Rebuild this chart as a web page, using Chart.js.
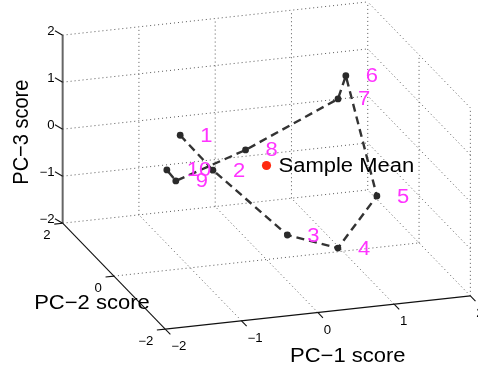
<!DOCTYPE html>
<html>
<head>
<meta charset="utf-8">
<script src="https://cdn.jsdelivr.net/npm/chart.js@4.4.1/dist/chart.umd.min.js"></script>
<style>
  html, body { margin: 0; padding: 0; background: #fff; }
  #wrap { position: relative; width: 478px; height: 368px; }
</style>
</head>
<body>
<div id="wrap"><canvas id="c"></canvas></div>
<script>
// PCA scores of the ten samples (PC-1, PC-2, PC-3)
const sampleIds = ['1', '2', '3', '4', '5', '6', '7', '8', '9', '10'];
const pc1 = [-0.93, -0.77, -0.13, 0.60, 1.38, 1.41, 1.24, -0.14, -1.29, -1.34];
const pc2 = [0.60, -0.20, -1.20, -1.00, -0.20, 1.10, 0.90, 0.40, -0.30, -0.10];
const pc3 = [0.47, 0.15, -0.78, -1.30, -0.78, 1.04, 0.69, 0.13, 0.07, 0.20];
const sampleMean = [0, 0, 0];
const meanLabel = 'Sample Mean';

// axis ticks and limits
const pc1Ticks = [-2, -1, 0, 1, 2];
const pc2Ticks = [-2, 0, 2];
const pc3Ticks = [-2, -1, 0, 1, 2];
const axisLimits = [-2, 2];
const axisTitles = ['PC\u22121 score', 'PC\u22122 score', 'PC\u22123 score'];

// orthographic camera (azimuth / elevation in degrees, screen units per data unit)
const VIEW = { az: -18, el: 19.6, unitX: 80.2, unitY: 83.0, unitZ: 49.9 };
const TEXT_STRETCH = 1.1;
const FONT = '"Liberation Sans", Arial, Helvetica, sans-serif';

function project(x, y, z) {
  const a = VIEW.az * Math.PI / 180, e = VIEW.el * Math.PI / 180;
  const X = x * VIEW.unitX, Y = y * VIEW.unitY, Z = z * VIEW.unitZ;
  return {
    x: X * Math.cos(a) + Y * Math.sin(a),
    y: -X * Math.sin(e) * Math.sin(a) + Y * Math.sin(e) * Math.cos(a) + Z * Math.cos(e)
  };
}

const fmt = v => (v < 0 ? '\u2212' + Math.abs(v) : String(v));
const [lo, hi] = axisLimits;

// box segments in data space
const gridSegs = [];
// back wall (PC-2 = hi)
pc3Ticks.forEach(z => gridSegs.push([[lo, hi, z], [hi, hi, z]]));
pc1Ticks.filter(x => x > lo).forEach(x => gridSegs.push([[x, hi, lo], [x, hi, hi]]));
// floor (PC-3 = lo)
pc1Ticks.filter(x => x > lo).forEach(x => gridSegs.push([[x, lo, lo], [x, hi, lo]]));
pc2Ticks.filter(y => y > lo && y < hi).forEach(y => gridSegs.push([[lo, y, lo], [hi, y, lo]]));
// side wall (PC-1 = hi)
pc3Ticks.filter(z => z > lo).forEach(z => gridSegs.push([[hi, lo, z], [hi, hi, z]]));
pc2Ticks.filter(y => y < hi).forEach(y => gridSegs.push([[hi, y, lo], [hi, y, hi]]));

const axisSegs = [
  [[lo, lo, lo], [hi, lo, lo]],   // PC-1
  [[lo, lo, lo], [lo, hi, lo]]    // PC-2
];
const zAxisSeg = [[lo, hi, lo], [lo, hi, hi]];

const tickSegs = [];
pc1Ticks.forEach(x => tickSegs.push([[x, lo, lo], [x, lo - 0.2, lo]]));
pc2Ticks.forEach(y => tickSegs.push([[lo, y, lo], [lo - 0.11, y, lo]]));
pc3Ticks.forEach(z => tickSegs.push([[lo, hi, z], [lo - 0.04, hi + 0.18, z]]));

const seg2d = s => s.map(p => project(p[0], p[1], p[2]));

const datasets = [];
gridSegs.forEach(s => datasets.push({
  data: seg2d(s), showLine: true, pointRadius: 0, borderWidth: 1,
  borderColor: 'rgba(70,70,70,0.9)', borderDash: [1, 3], order: 10
}));
axisSegs.concat(tickSegs).forEach(s => datasets.push({
  data: seg2d(s), showLine: true, pointRadius: 0, borderWidth: 1.1,
  borderColor: '#111', order: 8
}));
datasets.push({
  data: seg2d(zAxisSeg), showLine: true, pointRadius: 0, borderWidth: 2,
  borderColor: '#666', order: 8
});
// sample trajectory
datasets.push({
  data: pc1.map((v, i) => project(v, pc2[i], pc3[i])),
  showLine: true, borderColor: '#333', borderWidth: 2.4, borderDash: [8, 5],
  pointRadius: 3.4, pointBackgroundColor: '#2a2a2a', pointBorderWidth: 0, order: 2
});
// sample mean
datasets.push({
  data: [project(sampleMean[0], sampleMean[1], sampleMean[2])],
  showLine: false, pointRadius: 4.6, pointBackgroundColor: '#ff2a10', pointBorderWidth: 0, order: 1
});

function putText(ctx, str, x, y, o) {
  ctx.save();
  ctx.translate(x, y);
  ctx.scale(TEXT_STRETCH, 1);
  if (o.angle) ctx.rotate(o.angle);
  ctx.font = o.size + 'px ' + FONT;
  ctx.fillStyle = o.color || '#000';
  ctx.textAlign = o.align || 'left';
  ctx.textBaseline = o.baseline || 'middle';
  ctx.fillText(str, 0, 0);
  ctx.restore();
}

const sceneText = {
  id: 'sceneText',
  afterDatasetsDraw(chart) {
    const ctx = chart.ctx, sx = chart.scales.x, sy = chart.scales.y;
    const px = (x, y, z) => {
      const p = project(x, y, z);
      return { x: sx.getPixelForValue(p.x), y: sy.getPixelForValue(p.y) };
    };
    // tick labels
    pc3Ticks.forEach(z => {
      const p = px(lo, hi, z);
      putText(ctx, fmt(z), p.x - 8, p.y - 3, { size: 12, align: 'right' });
    });
    pc2Ticks.forEach(y => {
      const p = px(lo, y, lo);
      putText(ctx, fmt(y), p.x - 12, p.y + 13, { size: 12, align: 'right' });
    });
    pc1Ticks.forEach(x => {
      const p = px(x, lo, lo);
      putText(ctx, fmt(x), p.x + 6, p.y + 18, { size: 12, align: 'left' });
    });
    // axis titles
    const m1 = px(0, lo, lo), m2 = px(lo, 0, lo), m3 = px(lo, hi, 0);
    putText(ctx, axisTitles[0], m1.x + 30, m1.y + 44, { size: 20, align: 'center' });
    putText(ctx, axisTitles[1], m2.x - 22, m2.y + 27, { size: 20, align: 'center' });
    putText(ctx, axisTitles[2], m3.x - 41, m3.y + 3, { size: 20, align: 'center', angle: -Math.PI / 2 });
    // sample labels
    sampleIds.forEach((id, i) => {
      const p = px(pc1[i], pc2[i], pc3[i]);
      putText(ctx, id, p.x + 20, p.y + 1, { size: 20, color: '#ff33ff' });
    });
    const mp = px(sampleMean[0], sampleMean[1], sampleMean[2]);
    putText(ctx, meanLabel, mp.x + 12, mp.y + 1, { size: 20 });
  }
};

new Chart(document.getElementById('c'), {
  type: 'scatter',
  data: { datasets },
  options: {
    responsive: true,
    maintainAspectRatio: false,
    animation: false,
    layout: { padding: 0, autoPadding: false },
    plugins: { legend: { display: false }, tooltip: { enabled: false } },
    scales: {
      x: { type: 'linear', display: false, bounds: 'data', min: -266.5, max: 211.5 },
      y: { type: 'linear', display: false, bounds: 'data', min: -202.5, max: 165.5 }
    }
  },
  plugins: [sceneText]
});
</script>
</body>
</html>
